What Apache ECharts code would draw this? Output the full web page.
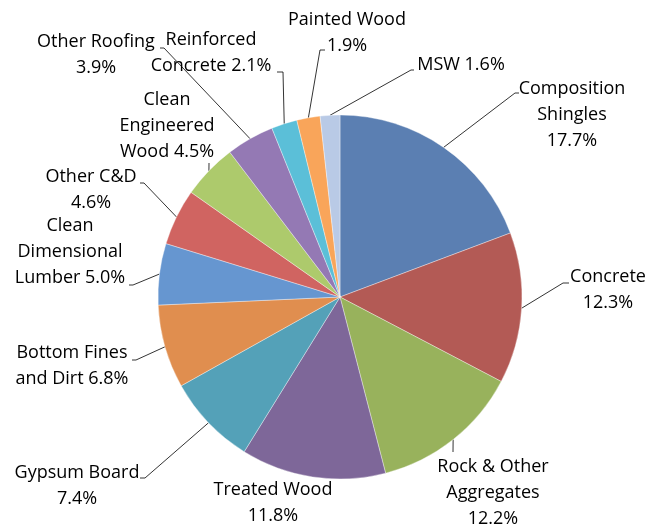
<!DOCTYPE html>
<html>
<head>
<meta charset="utf-8">
<script src="https://cdn.jsdelivr.net/npm/echarts@6/dist/echarts.min.js"></script>
<style>
  html, body { margin: 0; padding: 0; background: #fff; }
  #chart { width: 648px; height: 529px; }
</style>
</head>
<body>
<div id="chart"></div>
<script>
// Waste composition categories and their shares (percent)
const categories = [
  'Composition Shingles', 'Concrete', 'Rock & Other Aggregates', 'Treated Wood',
  'Gypsum Board', 'Bottom Fines and Dirt', 'Clean Dimensional Lumber', 'Other C&D',
  'Clean Engineered Wood', 'Other Roofing', 'Reinforced Concrete', 'Painted Wood', 'MSW'
];
const shares = [17.7, 12.3, 12.2, 11.8, 7.4, 6.8, 5.0, 4.6, 4.5, 3.9, 2.1, 1.9, 1.6];
// How each label's name is broken over lines
const labelNames = [
  'Composition\nShingles', 'Concrete', 'Rock & Other\nAggregates', 'Treated Wood',
  'Gypsum Board', 'Bottom Fines\nand Dirt', 'Clean\nDimensional\nLumber', 'Other C&D',
  'Clean\nEngineered\nWood', 'Other Roofing', 'Reinforced\nConcrete', 'Painted Wood', 'MSW'
];
// Whether the value goes on its own line
const valueOnNewLine = [true, true, true, true, true, false, false, true, false, true, false, true, false];
const colors = [
  '#5b7fb2', '#b35a55', '#98b25c', '#7e6799', '#54a1b8', '#e08e4f',
  '#6696d0', '#d06461', '#adca6c', '#9479b4', '#5bbfd8', '#f9a55a', '#b9cae6'
];

// Label placement: centre of each text block, in pixels
const labelCenters = [
  [572, 115], [608, 290], [493, 493], [273, 503], [77, 486], [72, 366], [70, 252],
  [91, 190], [167, 126], [96, 55], [211, 53], [347, 33], [461, 65]
];
// Leader line bends, from the slice edge towards the text (empty = no line)
const leaderPaths = [
  [[515, 93], [519, 93]],
  [[563, 283], [569, 283]],
  [[453, 452]],
  [],
  [[145, 478], [140, 478]],
  [[136, 360], [132, 360]],
  [[133, 285], [129, 285]],
  [[144, 183], [140, 183]],
  [[209, 163]],
  [[164, 48], [160, 48]],
  [[283, 72], [277, 72]],
  [[320, 50], [325, 50]],
  [[411, 70], [414, 70]]
];

const chart = echarts.init(document.getElementById('chart'));
chart.setOption({
  animation: false,
  backgroundColor: '#ffffff',
  series: [{
    type: 'pie',
    center: [340, 297],
    radius: 182,
    startAngle: 90,
    clockwise: true,
    data: categories.map((name, i) => ({
      name: name,
      value: shares[i],
      itemStyle: { color: colors[i] }
    })),
    itemStyle: { borderColor: 'rgba(255,255,255,0.6)', borderWidth: 0.6 },
    label: {
      show: true,
      position: 'outside',
      fontFamily: '"Open Sans", sans-serif',
      fontSize: 18,
      lineHeight: 26,
      color: '#000',
      formatter: function (p) {
        const i = p.dataIndex;
        const v = shares[i].toFixed(1) + '%';
        return labelNames[i] + (valueOnNewLine[i] ? '\n' : ' ') + v;
      }
    },
    labelLine: {
      show: true,
      length: 10,
      length2: 5,
      lineStyle: { color: '#000', width: 0.8 }
    },
    labelLayout: function (params) {
      const i = params.dataIndex;
      const c = labelCenters[i];
      const start = params.labelLinePoints ? params.labelLinePoints[0] : null;
      const path = leaderPaths[i];
      const out = {
        x: c[0],
        y: c[1],
        align: 'center',
        verticalAlign: 'middle',
        hideOverlap: false,
        moveOverlap: null
      };
      if (start && path.length) {
        out.labelLinePoints = [start].concat(path.length === 1 ? [path[0], path[0]] : path);
      } else if (start) {
        out.labelLinePoints = [start, start, start];
      }
      return out;
    },
    emphasis: { disabled: true }
  }]
});
</script>
</body>
</html>
